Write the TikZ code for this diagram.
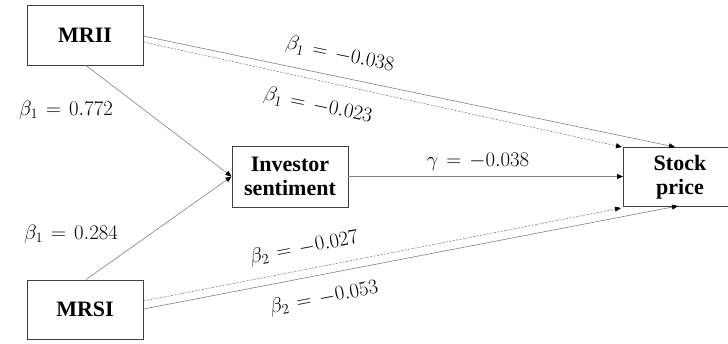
\documentclass[tikz,border=0pt]{standalone}
\usepackage{fontspec}
\setmainfont{Liberation Serif}
\usetikzlibrary{arrows.meta}
\newcommand\lbl[1]{$\thickmuskip=7mu\relax #1$}
\begin{document}
\begin{tikzpicture}[x=1pt,y=-1pt,
  box/.style={draw=black!75,line width=0.9pt,inner sep=0pt,font=\bfseries\fontsize{22}{24}\selectfont,align=center},
  conn/.style={draw=black!50,line width=0.6pt,-{Triangle[length=6pt,width=5pt,fill=black,color=black]}},
  dconn/.style={conn,dashed,dash pattern=on 2pt off 1.5pt},
  lab/.style={font=\fontsize{22}{24}\selectfont,inner sep=0pt}]
\useasboundingbox (0,0) rectangle (728,343);
\clip (0,0) rectangle (728,343);
\node[box,minimum width=116pt,minimum height=60pt] (mrii) at (85,35) {MRII};
\node[box,minimum width=116pt,minimum height=59pt] (mrsi) at (85,309.5) {MRSI};
\node[box,minimum width=116pt,minimum height=61pt] (inv) at (290,176.5) {Investor\\sentiment};
\node[box,minimum width=116pt,minimum height=59pt,anchor=west] (sp) at (623,176.5) {};
\node[font=\bfseries\fontsize{22}{24}\selectfont,align=center,inner sep=0pt] (sptxt) at (680,177) {Stock\\price};
\coordinate (s1) at (675,147);
\coordinate (s2) at (622,147);
\coordinate (s3) at (621,208);
\coordinate (s4) at (678,206);
\draw[conn] (mrii.east|-0,36) -- (s1);
\draw[dconn] (mrii.east|-0,42) -- (s2);
\draw[conn] ([xshift=1pt]mrii.south) -- (inv.west);
\draw[conn] ([xshift=1pt]mrsi.north) -- (inv.west);
\draw[conn] (inv.east) -- (sp.west);
\draw[dconn] (mrsi.east|-0,301) -- (s3);
\draw[conn] (mrsi.east|-0,309) -- (s4);
\node[lab,rotate=-11.7] (l1) at (340,55) {\lbl{\beta_1=-0.038}};
\node[lab,rotate=-11.7] (l2) at (318,106) {\lbl{\beta_1=-0.023}};
\node[lab] (l3) at (66,110) {\lbl{\beta_1=0.772}};
\node[lab] (l4) at (71,234) {\lbl{\beta_1=0.284}};
\node[lab] (l5) at (478,162) {\lbl{\gamma=-0.038}};
\node[lab,rotate=10.8] (l6) at (304,248) {\lbl{\beta_2=-0.027}};
\node[lab,rotate=10.8] (l7) at (324,298) {\lbl{\beta_2=-0.053}};
\end{tikzpicture}
\end{document}
